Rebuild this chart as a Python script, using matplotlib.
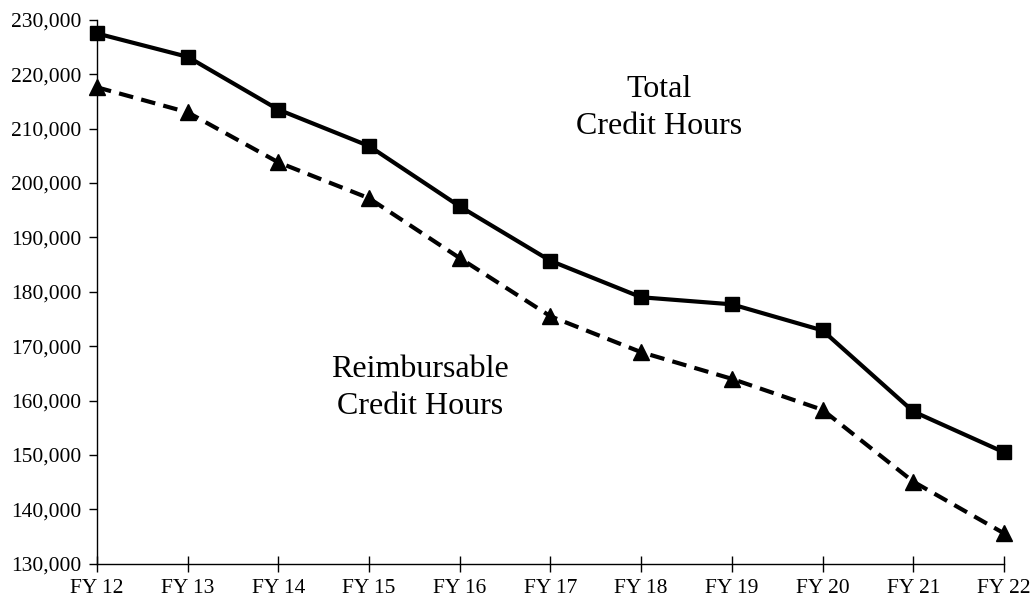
import matplotlib
matplotlib.use("Agg")
from matplotlib import pyplot as plt
from matplotlib.ticker import FuncFormatter

# fiscal years and credit hours per year
years = ["FY 12", "FY 13", "FY 14", "FY 15", "FY 16", "FY 17",
         "FY 18", "FY 19", "FY 20", "FY 21", "FY 22"]
total_hours = [227500, 223200, 213500, 206800, 195700, 185700,
               179000, 177700, 172900, 158000, 150500]
reimb_hours = [217600, 213000, 203800, 197200, 186200, 175500,
               168900, 164000, 158300, 145100, 135600]

plt.rcParams['font.family'] = ['Liberation Serif', 'DejaVu Serif']

fig = plt.figure(figsize=(10.35, 6.02), dpi=100)
ax = fig.add_axes([0.0937, 0.0635, 0.8763, 0.9035])

x = list(range(len(years)))
ax.plot(x, total_hours, color='black', linewidth=3, marker='s',
        markersize=10, clip_on=False)
ax.plot(x, reimb_hours, color='black', linewidth=3, linestyle=(0, (3.5, 2)),
        marker='^', markersize=11, clip_on=False)

ax.set_xlim(0, len(years) - 1)
ax.set_ylim(130000, 230000)
ax.set_yticks(range(130000, 230001, 10000))
ax.yaxis.set_major_formatter(FuncFormatter(lambda v, p: f"{int(v):,}"))
ax.set_xticks(x)
ax.set_xticklabels(years)

for side in ['top', 'right']:
    ax.spines[side].set_visible(False)
for side in ['left', 'bottom']:
    ax.spines[side].set_linewidth(1.0)

ax.tick_params(axis='y', direction='out', length=6, width=1, labelsize=15.5, pad=5)
ax.tick_params(axis='x', direction='inout', length=12, width=1, labelsize=15.5, pad=5)

ax.text(6.2, 213800, "Total\nCredit Hours", ha='center', va='center',
        fontsize=23, linespacing=1.4)
ax.text(3.56, 162300, "Reimbursable\nCredit Hours", ha='center', va='center',
        fontsize=23, linespacing=1.4)

fig.savefig("out.png", dpi=100)
